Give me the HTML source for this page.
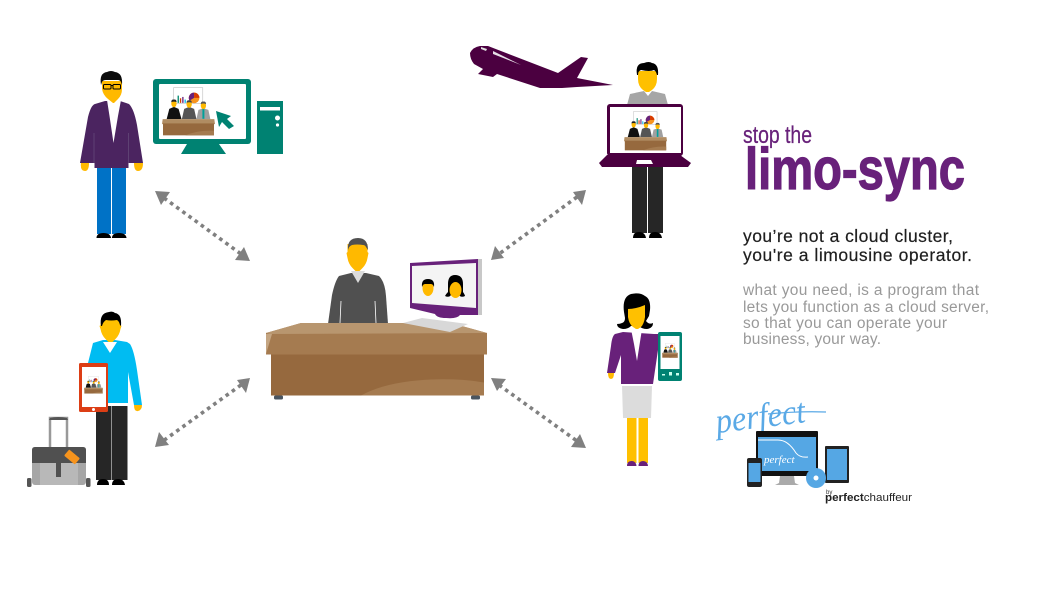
<!DOCTYPE html>
<html lang="en"><head><meta charset="utf-8"><title>stop the limo-sync</title>
<style>html,body{margin:0;padding:0;background:#fff;width:1049px;height:600px;overflow:hidden}svg{display:block}text{font-family:"Liberation Sans",sans-serif}</style>
</head><body>
<svg width="1049" height="600" viewBox="0 0 1049 600" xmlns="http://www.w3.org/2000/svg">
<defs>
<symbol id="scene" viewBox="0 0 160 148">
  <rect x="35" y="2" width="88" height="48" fill="#fff" stroke="#c4c4c4" stroke-width="2"/>
  <rect x="47" y="26" width="4" height="22" fill="#00886f"/><rect x="54" y="34" width="4" height="14" fill="#d83b01"/><rect x="61" y="30" width="4" height="18" fill="#68217a"/><rect x="68" y="38" width="4" height="10" fill="#00bcf2"/>
  <circle cx="97" cy="33" r="16" fill="#f7941d"/><path d="M97 33V17a16 16 0 0 0-14 24z" fill="#68217a"/><path d="M97 33V17a16 16 0 0 1 16 16z" fill="#d83b01"/>
  <path d="M14 97L22 66l14-6 14 6 9 31z" fill="#111"/><path d="M60 97L67 66l15-6 15 6 7 31z" fill="#555"/><path d="M104 97l6-28 15-5 15 5 6 28z" fill="#a0a0a0"/>
  <rect x="122" y="66" width="6" height="30" fill="#00a19a"/>
  <ellipse cx="36" cy="50" rx="8" ry="11" fill="#ffb900"/><ellipse cx="82" cy="52" rx="8" ry="11" fill="#ffb900"/><ellipse cx="125" cy="56" rx="8" ry="11" fill="#ffb900"/>
  <path d="M28 46q0-9 8-8 8-1 8 8-8-4-16 0z" fill="#222"/><path d="M74 48q0-9 8-8 8-1 8 8-8-4-16 0z" fill="#444"/><path d="M117 52q0-9 8-8 8-1 8 8-8-4-16 0z" fill="#555"/>
  <path d="M0 112l2-15h156l2 15z" fill="#b08c62"/><rect x="3" y="110" width="154" height="36" fill="#96693e"/><path d="M70 146q40-16 87-14v14z" fill="#a57b50"/>
</symbol>
</defs>

<!-- arrows -->
<g fill="#808080">
<g stroke="#808080" stroke-width="3.6" stroke-dasharray="3.6 4" fill="none">
<line x1="164" y1="198" x2="241" y2="254"/><line x1="577" y1="197" x2="499" y2="254"/><line x1="241" y1="385" x2="163" y2="441"/><line x1="499" y1="385" x2="577" y2="441"/>
</g>
<path d="M155 191l15 1-9 13z"/><path d="M250 261l-15-1 9-13z"/>
<path d="M586 190l-4 15-9-13z"/><path d="M491 260l4-14 9 12z"/>
<path d="M250 378l-4 15-9-13z"/><path d="M155 447l4-15 10 13z"/>
<path d="M491 378l15 1-9 12z"/><path d="M586 448l-15-1 9-13z"/>
</g>

<!-- person 1 -->
<rect x="97" y="167" width="14" height="67" fill="#0072c6"/><rect x="112" y="167" width="14" height="67" fill="#0072c6"/>
<path d="M96.500 238q0-5 7-5t7.500 5zM112 238q0-5 7-5t7.500 5z" fill="#000"/>
<path d="M81 163q-1 8 4 8 4 0 4-8zM134 163q0 8 4 8 5 0 5-8z" fill="#ffb900"/>
<path d="M105 101l-10 3q-4 1-7 13L80 163h14.500v5h34v-5H143l-6-38q-3-16-8-21l-9-3z" fill="#4b2460"/>
<path d="M94 133v30M128.500 133v30" stroke="#6d5580" stroke-width=".6"/>
<path d="M107 100h14l-3 16-4.500 27-4-27z" fill="#fff"/>
<path d="M102 81h20v8q0 6-4 10l-4 4-1 0-5-4q-5-4-6-10z" fill="#ffb900"/>
<path d="M101 85q-2-12 6-13 4-2 8 0 8 1 7 13l-1-3q-1-2-3-2h-12q-3 0-4 2z" fill="#0c0c0c"/>
<rect x="103.500" y="84.500" width="7.500" height="4.500" rx="1" fill="none" stroke="#000" stroke-width="1"/><rect x="113" y="84.500" width="7.500" height="4.500" rx="1" fill="none" stroke="#000" stroke-width="1"/><path d="M111 85.500h2" stroke="#000"/>

<!-- monitor 1 -->
<rect x="153" y="79" width="98" height="65" rx="3" fill="#008272"/><rect x="159" y="84" width="87" height="55" rx="1" fill="#fff"/>
<path d="M187 144l-6 10h45l-7-10z" fill="#008272"/>
<use href="#scene" x="162" y="87" width="53" height="49"/>
<path d="M216 111l15 5-4 3 7 7-5 3-7-7-3 5z" fill="#008272"/>
<rect x="257" y="101" width="26" height="53" fill="#008272"/><rect x="260" y="107" width="20" height="3.500" fill="#fff"/><circle cx="277.500" cy="118" r="2.500" fill="#fff"/><circle cx="277.500" cy="125" r="1.600" fill="#fff"/>

<!-- plane -->
<path d="M470 53q3-6 10-7h8l70 27 23-16 7 1-11 20 36 7-36 2-15 1-22 0-43-14-4 3-15-3 5-5-9-5q-4-5-4-11z" fill="#4b0040"/>
<path d="M493 51l28 14-28-11z" fill="#e6dfe6"/><path d="M481 47l6 2-1 2-5-2z" fill="#ddd"/>

<!-- person 2 -->
<rect x="632" y="165" width="15" height="68" fill="#262626"/><rect x="648" y="165" width="15" height="68" fill="#262626"/>
<path d="M633 238q0-6 6-6t7 6zM649 238q0-6 6-6t7 6z" fill="#000"/>
<path d="M627 105l3-11 14-3 4 5 4-5 13 3 3 11z" fill="#a6a6a6"/>
<path d="M638 71h19v8q0 7-5 11l-3 2h-3l-3-2q-5-4-5-11z" fill="#ffc000"/>
<path d="M637 75q-2-12 7-12 5-2 8 0 7 1 6 12l-1 0q-1-4-3-5-4 2-13 0-3 1-3 5z" fill="#000"/>
<rect x="607" y="104" width="76" height="52" rx="3" fill="#4b0040"/><rect x="610" y="107" width="71" height="46" fill="#fff"/>
<use href="#scene" x="624" y="111" width="43" height="40"/>
<path d="M607 155h73l11 8-3 4H602l-3-4z" fill="#4b0040"/><path d="M637 160h14l2 4h-17z" fill="#fff"/>

<!-- centre person -->
<path d="M328 324l4-29q3-14 7-19l12-3h15l13 3q6 6 7 20l2 28z" fill="#505050"/>
<path d="M340 323l1-22M376 323l-1-22" stroke="#fff" stroke-width=".8"/>
<path d="M351 271h14l-7 12z" fill="#dcdcdc"/>
<path d="M347.500 244h20v8l1 1-1 5q-1 6-5 10l-3 3h-4l-3-3q-4-4-5-10l-1-5 1-1z" fill="#ffb900"/>
<path d="M348 250q-1-12 10-12 10 0 10 12l-2-3q-1-2-3-2-6-1-11 0-3 1-4 5z" fill="#505050"/>

<!-- centre monitor -->
<path d="M410 263l68-4 4 0 0 56-4 0H460q-3 4-14 3-9 0-11-4l-25-6z" fill="#68217a"/>
<rect x="478" y="259" width="4" height="56" fill="#c8c8c8"/>
<path d="M412 266l64-3v45l-64-5z" fill="#f4f4f4"/>
<ellipse cx="428" cy="288" rx="5.500" ry="8" fill="#ffb900"/><path d="M422 287q-1-8 6-8 7 0 6 8-1-3-3-3h-6q-2 0-3 3z" fill="#000"/>
<path d="M448 284q0-9 7-9 8 0 8 9l0 8q2 3 2 4-4 2-6-1h-8q-2 3-6 1 1-2 3-4z" fill="#000"/><ellipse cx="455.500" cy="290" rx="6" ry="8" fill="#ffb900"/>

<!-- desk -->
<path d="M266 333l35-10h150l36 10v21.500H266z" fill="#a57b50"/>
<path d="M301 323h150l36 10-217 1-4-1z" fill="#b8966f"/>
<path d="M266 334h6l-6 20z" fill="#c4a582"/>
<rect x="271" y="354.500" width="213" height="41" fill="#96693e"/>
<path d="M361 395.500q25-14 70-16 30-1 53 3v13z" fill="#a57b50"/>
<rect x="274" y="395.500" width="9" height="4" rx="1.500" fill="#4a5560"/><rect x="471" y="395.500" width="9" height="4" rx="1.500" fill="#4a5560"/>
<path d="M403 323l19-5 46 6-18 8z" fill="#d8d8d8"/>

<!-- person 4 -->
<rect x="96" y="404" width="15.500" height="76" fill="#262626"/><rect x="112" y="404" width="15.500" height="76" fill="#262626"/>
<path d="M97 485q0-6 6-6t6 6zM112 485q0-6 6-6t7 6z" fill="#000"/>
<path d="M134 405q0 7 4 6 4-1 4-6z" fill="#ffb900"/>
<path d="M93 343l-5 20v40l40 1v-32l6 33h8l-5-35q-3-20-7-26l-3-2-12-2h-12z" fill="#00bcf2"/>
<path d="M103 342h14l-7 11z" fill="#fff"/>
<rect x="108" y="403" width="20" height="3" fill="#fff"/>
<path d="M101.500 318h19v7l1 1-1 3q-1 6-5 10l-3 3h-4l-3-3q-4-4-5-10l-1-3 1-1z" fill="#ffc000"/>
<path d="M101 326q-2-13 8-14 4-1 6 1 7 1 6 13l-1-1q-1-4-3-5-6 1-11 0-3 2-4 6z" fill="#000"/>
<rect x="79" y="363" width="29" height="49" rx="1.500" fill="#dc3e15"/><rect x="82" y="367" width="24" height="40" fill="#fff"/><circle cx="93.500" cy="409.500" r="1.500" fill="#fff"/>
<use href="#scene" x="84" y="376" width="19" height="18"/>

<!-- suitcase -->
<path d="M50 447v-29h17v29" fill="none" stroke="#999" stroke-width="2.500"/><path d="M49 420l1-2q8-2 17 0l1 2z" fill="#555"/>
<rect x="32" y="447" width="54" height="38" rx="3" fill="#a6a6a6"/><rect x="40" y="463" width="38" height="22" fill="#b8b8b8"/>
<path d="M32 463v-13q0-3 3-3h48q3 0 3 3v13z" fill="#505050"/>
<rect x="56" y="463" width="5" height="14" fill="#505050"/>
<rect x="27" y="478" width="4.500" height="9" rx="1.500" fill="#555"/><rect x="86" y="478" width="4.500" height="9" rx="1.500" fill="#555"/>
<rect x="65" y="453" width="14" height="8" rx="1" transform="rotate(40 72 457)" fill="#f7941d"/>

<!-- person 5 -->
<rect x="627" y="418" width="9.500" height="45" fill="#ffc000"/><rect x="638.500" y="418" width="9.500" height="45" fill="#ffc000"/>
<path d="M627 466q0-5 4.500-5t5 5zM638.500 466q0-5 4.500-5t5 5z" fill="#68217a"/>
<path d="M622 386h30l-1 32h-28z" fill="#dcdcdc"/>
<path d="M608 373q0 6 3 6 3 0 3-6z" fill="#ffb900"/>
<path d="M623 332l-8 2q-3 2-4 12l-4 27h8l6-18v29h32l5-34v-16l-4 0z" fill="#68217a"/>
<path d="M631 329h11l-5 32-3-17z" fill="#fff"/>
<path d="M624 312q-2-15 7-18 9-2 14 2 6 3 5 14l-1 6-3 5q3 4 7 2 0 5-6 6-5 0-8-3h-8q-3 3-8 3-6-1-6-5 3 0 5-1 3-1 3-5z" fill="#000"/>
<path d="M628 309q8 0 17-4v12q-1 7-4 10l-3 2h-2l-3-2q-4-3-5-10z" fill="#ffc000"/>
<rect x="658" y="332" width="24" height="49" rx="2" fill="#008272"/><rect x="660.500" y="336" width="19" height="33" fill="#fff"/>
<use href="#scene" x="662" y="343" width="16" height="15"/>
<rect x="662" y="374" width="3" height="1.500" fill="#cfe"/><rect x="669" y="372" width="3" height="3.500" fill="#cfe"/><rect x="676" y="373" width="3" height="2.500" fill="#cfe"/>

<!-- text -->
<text x="743" y="143" font-size="24" fill="#68217a" stroke="#68217a" stroke-width=".25" textLength="69" lengthAdjust="spacingAndGlyphs">stop the</text>
<text x="745" y="189" font-size="58" font-weight="700" fill="#68217a" stroke="#68217a" stroke-width="1.200" textLength="220" lengthAdjust="spacingAndGlyphs">limo-sync</text>
<text x="743" y="242" font-size="17.500" fill="#1e1e1e" stroke="#1e1e1e" stroke-width=".2" textLength="210" lengthAdjust="spacing">you’re not a cloud cluster,</text>
<text x="743" y="261" font-size="17.500" fill="#1e1e1e" stroke="#1e1e1e" stroke-width=".2" textLength="229" lengthAdjust="spacing">you're a limousine operator.</text>
<g font-size="15.500" fill="#999">
<text x="743" y="295" textLength="236" lengthAdjust="spacing">what you need, is a program that</text>
<text x="743" y="312" textLength="246" lengthAdjust="spacing">lets you function as a cloud server,</text>
<text x="743" y="328" textLength="204" lengthAdjust="spacing">so that you can operate your</text>
<text x="743" y="344" textLength="138" lengthAdjust="spacing">business, your way.</text>
</g>

<!-- logo -->
<text x="717" y="433" font-size="35" font-style="italic" style="font-family:'Liberation Serif',serif" fill="#5aa9e6" textLength="90" lengthAdjust="spacingAndGlyphs" transform="rotate(-7 717 433)">perfect</text>
<path d="M768 414q30-3 58-2" fill="none" stroke="#5aa9e6" stroke-width="1.200"/>
<path d="M780 476h14l1 7 4 2h-24l4-2z" fill="#aaa"/>
<rect x="756" y="431" width="62" height="45" rx="1" fill="#111"/><rect x="758" y="437" width="58" height="34" fill="#55a7e4"/>
<path d="M758 440h20q10 0 18 13 4 5 12 4" fill="none" stroke="#fff" stroke-width="1"/>
<text x="764" y="463" font-size="11" font-style="italic" fill="#fff" style="font-family:'Liberation Serif',serif">perfect</text>
<rect x="747" y="458" width="15" height="29" rx="2" fill="#222"/><rect x="748.500" y="463" width="12" height="19" fill="#55a7e4"/>
<rect x="825" y="446" width="24" height="37" rx="1" fill="#222"/><rect x="827" y="449" width="20" height="31" fill="#55a7e4"/>
<circle cx="816" cy="478" r="10" fill="#55a7e4"/><circle cx="816" cy="478" r="2.500" fill="#fff"/>
<text x="826" y="494" font-size="6" fill="#333">by</text>
<text x="825" y="501" font-size="11" fill="#222" textLength="87" lengthAdjust="spacingAndGlyphs"><tspan font-weight="700">perfect</tspan>chauffeur</text>
</svg>
</body></html>
